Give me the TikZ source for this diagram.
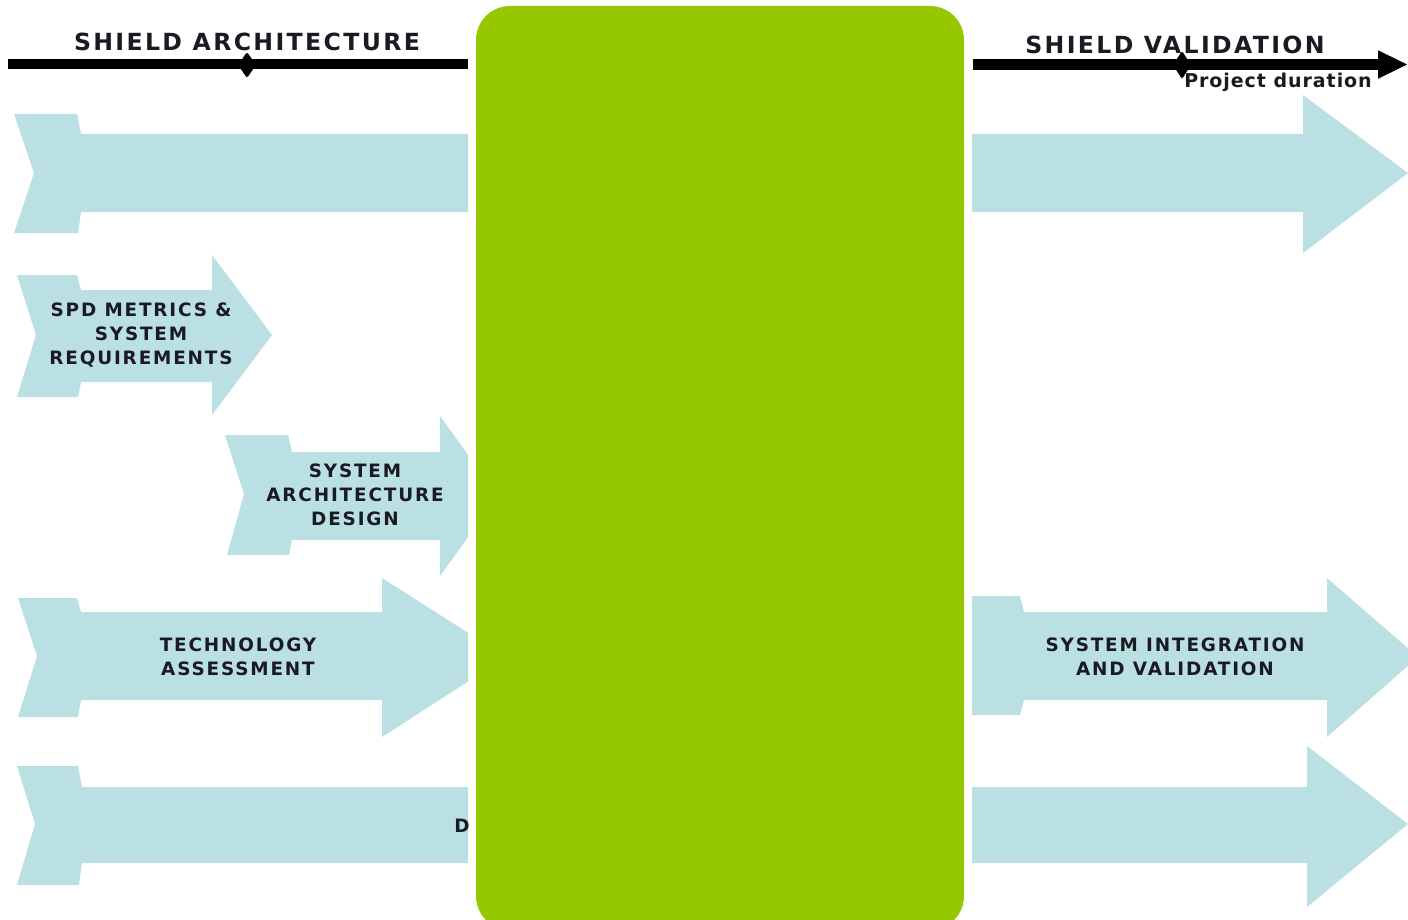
\documentclass[tikz,border=0pt]{standalone}
\usepackage{fontspec}
\setmainfont{DejaVu Sans}[LetterSpace=10]
\usetikzlibrary{arrows.meta}
\definecolor{flowBlue}{HTML}{BBE0E3}
\definecolor{hubGreen}{HTML}{96C800}
\definecolor{inkDark}{HTML}{1A1A22}

\tikzset{
  flow/.style={fill=flowBlue},
  phase/.style={font=\bfseries\fontsize{9.2}{12}\selectfont, align=center, text=inkDark},
  heading/.style={font=\bfseries\fontsize{11.8}{13}\selectfont, text=inkDark},
}

\begin{document}
\begin{tikzpicture}[x=0.5pt, y=-0.5pt]
        \useasboundingbox (0,0) rectangle (1408,920);
        % centre block
        \fill[hubGreen, rounded corners=17pt] (476,6) rectangle (964,930);
        % left phases
        \begin{scope}
          \clip (0,0) rectangle (468,920);
          \fill[flow] (14,114) -- (77,114) -- (81,134) -- (480,134) -- (480,212) -- (81,212) -- (78,233) -- (14,233) -- (34,173) -- cycle;
          \fill[flow] (17,275) -- (77,275) -- (81,290) -- (212,290) -- (212,255) -- (272,335) -- (212,415) -- (212,382) -- (81,382) -- (78,397) -- (17,397) -- (36,335) -- cycle;
          \fill[flow] (225,435) -- (288,435) -- (292,452) -- (440,452) -- (440,416) -- (498,496) -- (440,576) -- (440,540) -- (292,540) -- (289,555) -- (227,555) -- (244,494) -- cycle;
          \fill[flow] (18,598) -- (77,598) -- (81,612) -- (382,612) -- (382,578) -- (506,657) -- (382,737) -- (382,700) -- (81,700) -- (78,717) -- (18,717) -- (37,656) -- cycle;
          \fill[flow] (17,766) -- (78,766) -- (82,787) -- (480,787) -- (480,863) -- (82,863) -- (79,885) -- (17,885) -- (35,824) -- cycle;
          \node[phase] (dcut) at (462,826) {D};
        \end{scope}
        % right phases
        \begin{scope}
          \clip (972,0) rectangle (1408,920);
          \fill[flow] (960,134) -- (1303,134) -- (1303,95) -- (1408,173) -- (1303,253) -- (1303,212) -- (960,212) -- cycle;
          \fill[flow] (960,596) -- (1020,596) -- (1024,612) -- (1327,612) -- (1327,578) -- (1418,657) -- (1327,737) -- (1327,700) -- (1024,700) -- (1020,715) -- (960,715) -- cycle;
          \fill[flow] (960,787) -- (1307,787) -- (1307,746) -- (1408,824) -- (1307,907) -- (1307,863) -- (960,863) -- cycle;
        \end{scope}
        % time lines
        \draw[line width=5pt] (8,64) -- (468,64);
        \fill[rounded corners=1pt] (247,52) -- (256,65) -- (247,78) -- (238,65) -- cycle;
        \draw[line width=5.3pt, -{Triangle[length=15pt, width=13pt]}] (973,64.5) -- (1408,64.5);
        \fill[rounded corners=1pt] (1182,51) -- (1191,65) -- (1182,79) -- (1173,65) -- cycle;
        \node[heading] (arch) at (247,42) {SHIELD ARCHITECTURE};
        \node[heading] (valid) at (1175,45) {SHIELD VALIDATION};
        \node[font=\bfseries\fontsize{9.5}{10}\selectfont\addfontfeatures{LetterSpace=5}, text=inkDark] (dur) at (1278,82) {Project duration};
        % phase labels
        \node[phase] (spd) at (141,335) {SPD METRICS \&\\SYSTEM\\REQUIREMENTS};
        \node[phase] (sad) at (355,495) {SYSTEM\\ARCHITECTURE\\DESIGN};
        \node[phase] (tech) at (238,657) {TECHNOLOGY\\ASSESSMENT};
        \node[phase] (sint) at (1175,657) {SYSTEM INTEGRATION\\AND VALIDATION};
      \end{tikzpicture}
\end{document}
